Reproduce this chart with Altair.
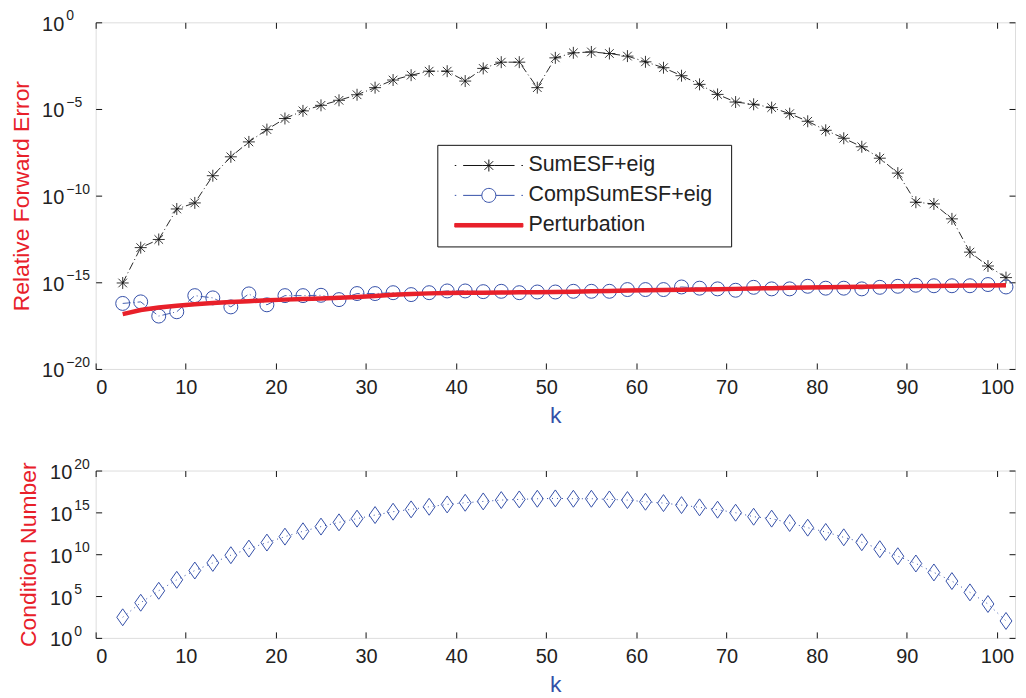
import altair as alt
import pandas as pd

# ---------------- data ----------------
k_values = list(range(3, 102, 2))

sum_esf_log10 = [-15.04, -13.0, -12.53, -10.77, -10.42, -8.85, -7.76, -6.9, -6.19, -5.55,
                 -5.11, -4.79, -4.5, -4.18, -3.77, -3.33, -3.05, -2.82, -2.82, -3.39,
                 -2.66, -2.30, -2.30, -3.77, -2.05, -1.76, -1.71, -1.80, -1.95, -2.28,
                 -2.62, -3.08, -3.58, -4.16, -4.60, -4.73, -4.92, -5.27, -5.71, -6.23,
                 -6.69, -7.18, -7.84, -8.70, -10.38, -10.48, -11.34, -13.26, -14.06, -14.73]

comp_esf_log10 = [-16.22, -16.13, -16.95, -16.7, -15.77, -15.9, -16.42, -15.67, -16.30, -15.77,
                  -15.77, -15.75, -16.0, -15.65, -15.65, -15.6, -15.71, -15.6, -15.5, -15.5,
                  -15.54, -15.52, -15.6, -15.56, -15.56, -15.52, -15.52, -15.52, -15.42, -15.42,
                  -15.42, -15.27, -15.34, -15.38, -15.46, -15.29, -15.38, -15.38, -15.23, -15.34,
                  -15.34, -15.38, -15.29, -15.23, -15.17, -15.2, -15.2, -15.2, -15.13, -15.27]

perturbation_log10 = [-16.84, -16.6, -16.45, -16.35, -16.27, -16.2, -16.14, -16.09, -16.04, -16.0,
                      -15.96, -15.93, -15.89, -15.85, -15.79, -15.72, -15.67, -15.64, -15.62, -15.61,
                      -15.6, -15.59, -15.58, -15.57, -15.56, -15.54, -15.52, -15.50, -15.48, -15.46,
                      -15.45, -15.43, -15.42, -15.40, -15.38, -15.36, -15.34, -15.32, -15.30, -15.29,
                      -15.27, -15.26, -15.24, -15.23, -15.22, -15.21, -15.20, -15.19, -15.18, -15.17]

condition_log10 = [2.46, 4.2, 5.63, 6.94, 8.05, 8.96, 9.88, 10.67, 11.39, 12.1,
                   12.74, 13.3, 13.81, 14.25, 14.68, 15.08, 15.36, 15.67, 15.95, 16.15,
                   16.31, 16.47, 16.55, 16.63, 16.67, 16.63, 16.63, 16.55, 16.47, 16.27,
                   16.11, 15.87, 15.6, 15.32, 14.96, 14.48, 14.25, 13.73, 13.17, 12.66,
                   12.02, 11.43, 10.6, 9.76, 8.89, 7.82, 6.79, 5.44, 4.05, 2.02]

series_names = ["SumESF+eig", "CompSumESF+eig", "Perturbation"]
x_ticks = [0, 10, 20, 30, 40, 50, 60, 70, 80, 90, 100]
top_y_exps = [0, -5, -10, -15, -20]
bottom_y_exps = [0, 5, 10, 15, 20]

# ---------------- tables ----------------
top_df = pd.DataFrame({
    "k": k_values,
    "sum": [10 ** v for v in sum_esf_log10],
    "comp": [10 ** v for v in comp_esf_log10],
    "pert": [10 ** v for v in perturbation_log10],
})
bottom_df = pd.DataFrame({"k": k_values, "cond": [10 ** v for v in condition_log10]})
legend_df = pd.DataFrame({"series": series_names, "k": [1, 1, 1], "v": [1e-10, 1e-10, 1e-10]})

# ---------------- style ----------------
FONT = "Liberation Sans"
BLACK = "#111111"
BLUE = "#3450a8"
RED = "#e8202a"
TXT = "#222222"


def exp_expr(exps):
    expr = "''"
    for e in reversed(exps):
        s = str(e).replace("-", "\u2212")
        expr = f"(round(log(datum.value)/LN10) == {e} ? '{s}' : {expr})"
    return expr


STAR = "M-1,0L1,0M0,-1L0,1M-0.72,-0.72L0.72,0.72M-0.72,0.72L0.72,-0.72"
DIAMOND = "M0,-1L0.7,0L0,1L-0.7,0Z"
LEG_STAR = ("M-5.7,0L-5.45,0M-4.3,0L-1,0M1,0L4.3,0M5.45,0L5.7,0"
            "M-1,0L1,0M0,-1L0,1M-0.72,-0.72L0.72,0.72M-0.72,0.72L0.72,-0.72")
LEG_CIRC = ("M-5.7,0L-5.45,0M-4.3,0L-1.17,0M1.17,0L4.3,0M5.45,0L5.7,0"
            "M-1.17,0A1.17,1.17 0 1,0 1.17,0A1.17,1.17 0 1,0 -1.17,0")
# trailing move-to widens the legend frame to the right, as in the original box
LEG_RED = "M-5.7,-0.3L5.7,-0.3L5.7,0.3L-5.7,0.3ZM38.5,0"
DASHDOT = [8, 3, 1, 3]

W = 923
H_TOP = 348
H_BOT = 168

x_scale = alt.Scale(domain=[0, 102], nice=False, zero=False)
top_y_scale = alt.Scale(type="log", domain=[1e-20, 1], nice=False)
bot_y_scale = alt.Scale(type="log", domain=[1, 1e20], nice=False)


def x_main(title_pad):
    return alt.Axis(values=x_ticks, orient="bottom", offset=-6, tickSize=6, domain=False,
                    grid=False, labelPadding=9, labelFontSize=20, labelFont=FONT, labelColor=TXT,
                    tickColor=BLACK, title="k", titleColor=BLUE, titleFont=FONT,
                    titleFontSize=23, titleFontWeight="normal", titlePadding=title_pad)


def x_top():
    return alt.Axis(values=x_ticks, orient="top", offset=-6, tickSize=6, domain=False,
                    grid=False, labels=False, tickColor=BLACK, title=None)


def y_base(exps, title, pad, title_pad):
    # the "10" part of each label
    return alt.Axis(values=[10.0 ** e for e in exps], orient="left", offset=-6, tickSize=6,
                    domain=False, grid=False, labelPadding=pad, labelFontSize=20, labelFont=FONT,
                    labelColor=TXT, labelExpr="'10'", labelAlign="right", labelOffset=2,
                    tickColor=BLACK, title=title, titleColor=RED, titleFont=FONT,
                    titleFontSize=23, titleFontWeight="normal", titlePadding=title_pad)


def y_exp(exps, pad):
    # the exponent part of each label
    return alt.Axis(values=[10.0 ** e for e in exps], orient="left", offset=-6, tickSize=6,
                    tickOpacity=0, domain=False, grid=False, labelPadding=pad, labelFontSize=14,
                    labelFont=FONT, labelColor=TXT, labelExpr=exp_expr(exps), labelAlign="left",
                    labelOffset=-6.5, title=None)


def y_right(exps):
    return alt.Axis(values=[10.0 ** e for e in exps], orient="right", offset=-6, tickSize=6,
                    domain=False, grid=False, labels=False, tickColor=BLACK, title=None)


# ---------------- top panel ----------------
base_top = alt.Chart(top_df)

star_line = base_top.mark_line(color=BLACK, strokeWidth=0.9, strokeDash=DASHDOT).encode(
    x=alt.X("k:Q", scale=x_scale, axis=x_main(7)),
    y=alt.Y("sum:Q", scale=top_y_scale,
            axis=y_base(top_y_exps, "Relative Forward Error", 32, 8)),
)
star_pts = base_top.mark_point(shape=STAR, size=144, stroke=BLACK, strokeWidth=0.85,
                               filled=False, opacity=1).encode(
    x=alt.X("k:Q", scale=x_scale, axis=x_top()),
    y=alt.Y("sum:Q", scale=top_y_scale, axis=y_right(top_y_exps)),
)
comp_line = base_top.mark_line(color=BLUE, strokeWidth=0.9, strokeDash=DASHDOT).encode(
    x=alt.X("k:Q", scale=x_scale, axis=None),
    y=alt.Y("comp:Q", scale=top_y_scale, axis=None),
)
comp_pts = base_top.mark_point(shape="circle", size=196, stroke=BLUE, strokeWidth=1.0,
                               filled=False, opacity=1).encode(
    x=alt.X("k:Q", scale=x_scale, axis=None),
    y=alt.Y("comp:Q", scale=top_y_scale, axis=None),
)
pert_line = base_top.mark_line(color=RED, strokeWidth=4.5).encode(
    x=alt.X("k:Q", scale=x_scale, axis=None),
    y=alt.Y("pert:Q", scale=top_y_scale, axis=None),
)

leg = alt.Legend(title=None, orient="none", legendX=343, legendY=123, strokeColor=BLACK,
                 fillColor="white", padding=10, labelFont=FONT, labelFontSize=21.5,
                 labelColor=TXT, labelLimit=400,
                 symbolSize=144, symbolStrokeWidth=1, symbolOffset=31, labelOffset=29,
                 rowPadding=7, symbolType="circle")
legend_layer = alt.Chart(legend_df).mark_point(filled=False, opacity=1).encode(
    x=alt.X("k:Q", scale=x_scale, axis=None),
    y=alt.Y("v:Q", scale=top_y_scale, axis=y_exp(top_y_exps, 30)),
    stroke=alt.Stroke("series:N", scale=alt.Scale(domain=series_names, range=[BLACK, BLUE, RED]),
                      legend=leg),
    fill=alt.Fill("series:N", scale=alt.Scale(domain=series_names,
                                              range=["transparent", "transparent", RED]),
                  legend=leg),
    shape=alt.Shape("series:N", scale=alt.Scale(domain=series_names,
                                                range=[LEG_STAR, LEG_CIRC, LEG_RED]),
                    legend=leg),
).transform_filter("datum.k < 0")

top = alt.layer(star_line, star_pts, comp_line, comp_pts, pert_line, legend_layer).resolve_axis(
    x="independent", y="independent"
).properties(width=W, height=H_TOP)

# ---------------- bottom panel ----------------
base_bot = alt.Chart(bottom_df)
cond_line = base_bot.mark_line(color=BLUE, strokeWidth=1, strokeDash=[1, 4]).encode(
    x=alt.X("k:Q", scale=x_scale, axis=x_main(7)),
    y=alt.Y("cond:Q", scale=bot_y_scale,
            axis=y_base(bottom_y_exps, "Condition Number", 24, 9)),
)
cond_pts = base_bot.mark_point(shape=DIAMOND, size=289, stroke=BLUE, strokeWidth=1.0,
                               filled=False, opacity=1).encode(
    x=alt.X("k:Q", scale=x_scale, axis=x_top()),
    y=alt.Y("cond:Q", scale=bot_y_scale, axis=y_right(bottom_y_exps)),
)
exp_layer_bot = base_bot.mark_point(opacity=0).encode(
    x=alt.X("k:Q", scale=x_scale, axis=None),
    y=alt.Y("cond:Q", scale=bot_y_scale, axis=y_exp(bottom_y_exps, 22)),
).transform_filter("datum.k < 0")

bottom = alt.layer(cond_line, cond_pts, exp_layer_bot).resolve_axis(
    x="independent", y="independent"
).properties(width=W, height=H_BOT)

chart = alt.vconcat(top, bottom, spacing=102, bounds="flush").resolve_scale(
    x="independent", y="independent"
).properties(
    padding={"left": 2, "top": -1, "right": 2, "bottom": 2}
).configure_view(
    stroke=BLACK, strokeWidth=1.2
).configure(background="white", font=FONT)

chart.save("out.html", embed_options={"renderer": "svg", "actions": False})
